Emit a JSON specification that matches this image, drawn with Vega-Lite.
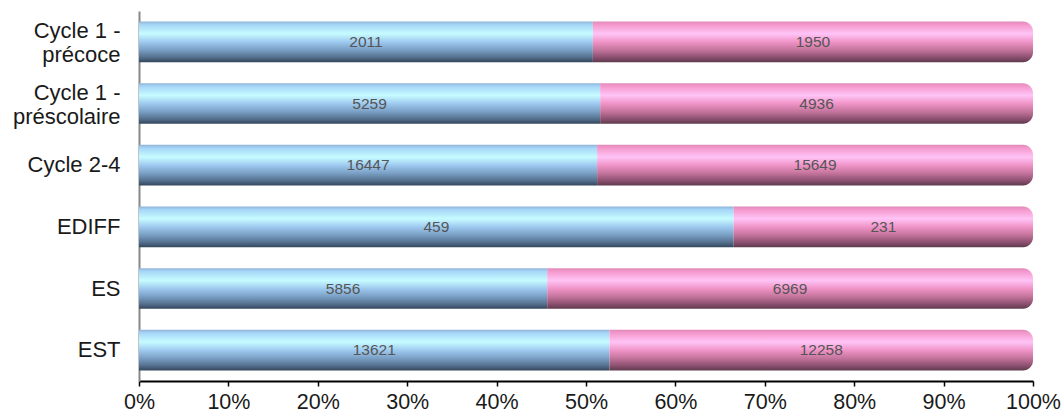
{
  "$schema": "https://vega.github.io/schema/vega-lite/v6.json",
  "autosize": "none",
  "width": 894,
  "height": 370,
  "padding": {"left": 139, "top": 11, "right": 31, "bottom": 35},
  "background": "white",
  "config": {
    "view": {"stroke": null},
    "font": "Liberation Sans"
  },
  "data": {
    "values": [
      {"cat": "Cycle 1 -|précoce", "sexe": "Garçons", "n": 2011},
      {"cat": "Cycle 1 -|précoce", "sexe": "Filles", "n": 1950},
      {"cat": "Cycle 1 -|préscolaire", "sexe": "Garçons", "n": 5259},
      {"cat": "Cycle 1 -|préscolaire", "sexe": "Filles", "n": 4936},
      {"cat": "Cycle 2-4", "sexe": "Garçons", "n": 16447},
      {"cat": "Cycle 2-4", "sexe": "Filles", "n": 15649},
      {"cat": "EDIFF", "sexe": "Garçons", "n": 459},
      {"cat": "EDIFF", "sexe": "Filles", "n": 231},
      {"cat": "ES", "sexe": "Garçons", "n": 5856},
      {"cat": "ES", "sexe": "Filles", "n": 6969},
      {"cat": "EST", "sexe": "Garçons", "n": 13621},
      {"cat": "EST", "sexe": "Filles", "n": 12258}
    ]
  },
  "transform": [
    {"stack": "n", "groupby": ["cat"], "offset": "normalize", "sort": [{"field": "sexe", "order": "descending"}], "as": ["x0", "x1"]},
    {"calculate": "(datum.x0 + datum.x1) / 2", "as": "xm"}
  ],
  "encoding": {
    "y": {
      "field": "cat", "type": "nominal", "sort": null, "title": null,
      "scale": {"paddingInner": 0.34, "paddingOuter": 0.17},
      "axis": {
        "domainColor": "#888888", "domainWidth": 2, "ticks": false,
        "labelFontSize": 22, "labelColor": "#1a1a1a", "labelPadding": 19,
        "labelLineHeight": 24, "labelExpr": "split(datum.label, '|')",
        "labelOffset": {"condition": {"test": "indexof(datum.value, '|') >= 0", "value": -11}, "value": 0}
      }
    }
  },
  "layer": [
    {
      "transform": [{"filter": "datum.sexe == 'Garçons'"}],
      "mark": {
        "type": "bar",
        "color": {
          "gradient": "linear", "x1": 0, "y1": 0, "x2": 0, "y2": 1,
          "stops": [
            {"offset": 0, "color": "#8fb4d8"},
            {"offset": 0.08, "color": "#a6d6f8"},
            {"offset": 0.3, "color": "#c6fcff"},
            {"offset": 0.5, "color": "#9fcaf0"},
            {"offset": 0.7, "color": "#7a9fc4"},
            {"offset": 0.88, "color": "#54708e"},
            {"offset": 1, "color": "#34465c"}
          ]
        }
      },
      "encoding": {
        "x": {
          "field": "x0", "type": "quantitative", "title": null,
          "scale": {"domain": [0, 1]},
          "axis": {
            "values": [0, 0.1, 0.2, 0.3, 0.4, 0.5, 0.6, 0.7, 0.8, 0.9, 1],
            "format": ".0%", "grid": false,
            "domainColor": "#000000", "domainWidth": 2,
            "tickColor": "#000000", "tickWidth": 1.5, "tickSize": 5,
            "labelFontSize": 21.5, "labelColor": "#1a1a1a", "labelPadding": 5,
            "labelFlush": false
          }
        },
        "x2": {"field": "x1"}
      }
    },
    {
      "transform": [{"filter": "datum.sexe == 'Filles'"}],
      "mark": {
        "type": "bar",
        "cornerRadiusTopRight": 10,
        "cornerRadiusBottomRight": 10,
        "color": {
          "gradient": "linear", "x1": 0, "y1": 0, "x2": 0, "y2": 1,
          "stops": [
            {"offset": 0, "color": "#e08ab8"},
            {"offset": 0.08, "color": "#f498cc"},
            {"offset": 0.3, "color": "#ffc4f6"},
            {"offset": 0.5, "color": "#f094c8"},
            {"offset": 0.7, "color": "#c4749c"},
            {"offset": 0.88, "color": "#8c5070"},
            {"offset": 1, "color": "#5e3a4c"}
          ]
        }
      },
      "encoding": {
        "x": {"field": "x0", "type": "quantitative"},
        "x2": {"field": "x1"}
      }
    },
    {
      "mark": {"type": "text", "fontSize": 15.5, "color": "#555555", "font": "Liberation Sans", "baseline": "middle", "align": "center"},
      "encoding": {
        "x": {"field": "xm", "type": "quantitative"},
        "text": {"field": "n", "type": "quantitative", "format": "d"}
      }
    }
  ]
}
